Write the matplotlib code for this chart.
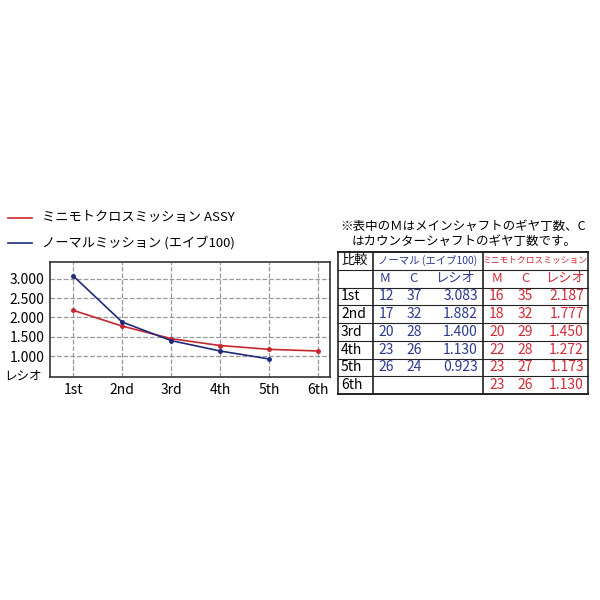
import matplotlib
matplotlib.use("Agg")
import matplotlib.pyplot as plt

plt.rcParams['font.family'] = ['Noto Sans CJK JP', 'DejaVu Sans']

gears = ["1st", "2nd", "3rd", "4th", "5th", "6th"]
normal_m = [12, 17, 20, 23, 26]
normal_c = [37, 32, 28, 26, 24]
normal_ratio = [3.083, 1.882, 1.400, 1.130, 0.923]
cross_m = [16, 18, 20, 22, 23, 23]
cross_c = [35, 32, 29, 28, 27, 26]
cross_ratio = [2.187, 1.777, 1.450, 1.272, 1.173, 1.130]
yticks = [1.0, 1.5, 2.0, 2.5, 3.0]

RED = "#c8262c"
BLUE = "#1f2a7a"
TRED = "#d42a35"
TBLUE = "#2b3a8f"

fig = plt.figure(figsize=(6, 6), dpi=100)

# overlay in pixel coords for legend, note and table
ov = fig.add_axes([0, 0, 1, 1])
ov.set_xlim(0, 600)
ov.set_ylim(600, 0)
ov.axis("off")

ax = fig.add_axes([50 / 600, 1 - 377 / 600, 280 / 600, 115 / 600])
x = list(range(1, 7))
ax.plot(x, cross_ratio, color=RED, lw=1.2, marker="o", ms=2.5)
ax.plot(x[:5], normal_ratio, color=BLUE, lw=1.2, marker="o", ms=2.5)
ax.set_xlim(0.53, 6.24)
ax.set_ylim(0.455, 3.44)
ax.set_xticks(x)
ax.set_xticklabels(gears, fontsize=10)
ax.set_yticks(yticks)
ax.set_yticklabels([f"{v:.3f}" for v in yticks], fontsize=10)
ax.tick_params(length=0, pad=4)
ax.grid(True, ls="--", color="#999999", lw=0.9)
for s in ax.spines.values():
    s.set_color("#333333")
    s.set_linewidth(1.2)

ov.text(4, 376, "レシオ", fontsize=9, va="center")

# legend
ov.plot([8, 32], [218, 218], color=RED, lw=1.2)
ov.text(42, 218, "ミニモトクロスミッション ASSY", fontsize=9.5, va="center")
ov.plot([8, 32], [243, 243], color=BLUE, lw=1.2)
ov.text(42, 243, "ノーマルミッション (エイブ100)", fontsize=9.5, va="center")

# note
ov.text(340, 226, "※表中のＭはメインシャフトのギヤ丁数、C", fontsize=9, va="center")
ov.text(352, 241, "はカウンターシャフトのギヤ丁数です。", fontsize=9, va="center")

# table
top, bot = 252, 394
left, mid1, mid2, right = 338, 373, 483, 588
rh = (bot - top) / 8
for i in range(9):
    lw = 1.4 if i in (0, 8) else 0.8
    ov.plot([left, right], [top + i * rh, top + i * rh], color="#222222", lw=lw)
for xv in (left, mid1, mid2, right):
    ov.plot([xv, xv], [top, bot], color="#222222", lw=1.2)

def cy(r):
    return top + (r + 0.5) * rh

ov.text(355, cy(0), "比較", fontsize=9.5, ha="center", va="center")
ov.text(428, cy(0), "ノーマル (エイブ100)", fontsize=7.5, ha="center", va="center", color=TBLUE)
ov.text(535, cy(0), "ミニモトクロスミッション", fontsize=6.3, ha="center", va="center", color=TRED)
for xs, col in (((385, 413, 455), TBLUE), ((497, 525, 565), TRED)):
    ov.text(xs[0], cy(1), "M", fontsize=9.5, ha="center", va="center", color=col)
    ov.text(xs[1], cy(1), "C", fontsize=9.5, ha="center", va="center", color=col)
    ov.text(xs[2], cy(1), "レシオ", fontsize=9.5, ha="center", va="center", color=col)
for i, g in enumerate(gears):
    ov.text(341, cy(i + 2), g, fontsize=10, va="center", ha="left")
    if i < len(normal_m):
        ov.text(386, cy(i + 2), str(normal_m[i]), fontsize=10, ha="center", va="center", color=TBLUE)
        ov.text(414, cy(i + 2), str(normal_c[i]), fontsize=10, ha="center", va="center", color=TBLUE)
        ov.text(478, cy(i + 2), f"{normal_ratio[i]:.3f}", fontsize=10, ha="right", va="center", color=TBLUE)
    ov.text(497, cy(i + 2), str(cross_m[i]), fontsize=10, ha="center", va="center", color=TRED)
    ov.text(525, cy(i + 2), str(cross_c[i]), fontsize=10, ha="center", va="center", color=TRED)
    ov.text(584, cy(i + 2), f"{cross_ratio[i]:.3f}", fontsize=10, ha="right", va="center", color=TRED)

fig.savefig("out.png", dpi=100)
